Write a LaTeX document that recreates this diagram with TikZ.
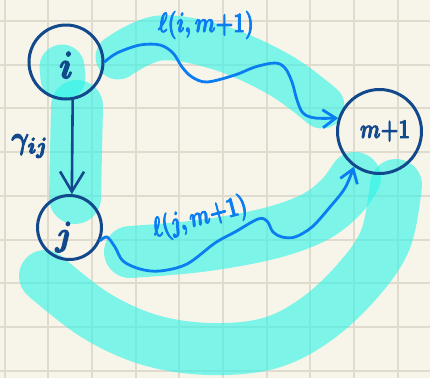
\documentclass[tikz,border=0pt]{standalone}
\usepackage{graphicx}
\usetikzlibrary{arrows.meta}
\definecolor{paper}{RGB}{247,244,234}
\definecolor{gridc}{RGB}{223,220,207}
\definecolor{hl}{RGB}{44,244,231}
\definecolor{navy}{RGB}{18,72,140}
\definecolor{bright}{RGB}{10,125,240}
\newcommand{\hwtext}[3]{\scalebox{#1}[#2]{\special{pdf:literal direct 2 Tr 0.35 w 1 J 1 j}\boldmath$#3$\special{pdf:literal direct 0 Tr}}}
\begin{document}
\begin{tikzpicture}[x=1pt,y=-1pt,
  hlstroke/.style={draw=hl, draw opacity=0.6, line cap=round, line join=round},
  circ/.style={circle, draw=navy, line width=3pt, inner sep=0pt},
  navytext/.style={text=navy, inner sep=0pt},
  bluetext/.style={text=bright, inner sep=0pt},
  wavy/.style={draw=bright, line width=2.8pt, line cap=round, -{Straight Barb[length=13pt,width=18pt]}},
  straightarrow/.style={draw=navy, line width=2.6pt, -{Straight Barb[length=20pt,width=24pt]}}]
\fill[paper] (0,0) rectangle (430,378);
\useasboundingbox (0,0) rectangle (430,378);
% grid
\foreach \k in {0,...,9} \draw[gridc, line width=2pt] ({4.5+43.7*\k},0) -- ({4.5+43.7*\k},378);
\foreach \k in {0,...,8} \draw[gridc, line width=2pt] (0,{21+43.7*\k}) -- (430,{21+43.7*\k});
% highlighter strokes
\draw[hlstroke, line width=45pt] plot[smooth, tension=0.6] coordinates {(118,57) (160,38) (220,48) (280,75) (322,106)};
\draw[hlstroke, line width=45pt] (62,67) -- (63,78);
\draw[hlstroke, line width=52pt] (77,106) -- (75,198);
\draw[hlstroke, line width=52pt] plot[smooth, tension=0.6] coordinates {(130,252) (200,246) (267,234) (313,218) (340,198) (355,178)};
\draw[hlstroke, line width=52pt] plot[smooth, tension=0.6] coordinates {(45,276) (95,315) (150,340) (210,349) (270,343) (318,318) (360,278) (386,238) (396,185)};
% nodes
\node[circ, minimum size=74pt] (i) at (66,62) {};
\node[circ, minimum size=64pt] (j) at (69.5,227.5) {};
\node[circ, minimum size=84pt] (m) at (379.5,131.5) {};
\node[navytext] (itext) at (66,65) {\hwtext{3.4}{3.8}{i}};
\node[navytext] (jtext) at (64,237) {\hwtext{3.2}{3.4}{j}};
\node[navytext] (mtext) at (385,131) {\hwtext{2}{2.7}{m{+}1}};
\node[navytext] (gtext) at (30,146) {\hwtext{2.7}{3.2}{\gamma_{ij}}};
\node[bluetext] (l1) at (206,25) {\hwtext{2}{2.8}{\ell(i,m{+}1)}};
\node[bluetext, rotate=15] (l2) at (200,218) {\hwtext{2}{2.8}{\ell(j,m{+}1)}};
% connectors
\draw[straightarrow] (i.-80) -- (j.86);
\draw[wavy] plot[smooth, tension=0.55] coordinates {(i.0) (117,53) (140,45) (160,45) (173,53) (182,67) (192,77) (207,82) (235,75) (255,67) (275,63) (285,68) (292,82) (297,100) (303,113) (315,118) (m.162)};
\draw[wavy] plot[smooth, tension=0.55] coordinates {(j.-23) (107,237) (115,247) (123,261) (140,269) (160,271) (187,264) (215,243) (235,232) (258,219) (267,221) (273,232) (282,237) (295,237) (312,227) (330,207) (345,188) (m.-126)};
\end{tikzpicture}
\end{document}
